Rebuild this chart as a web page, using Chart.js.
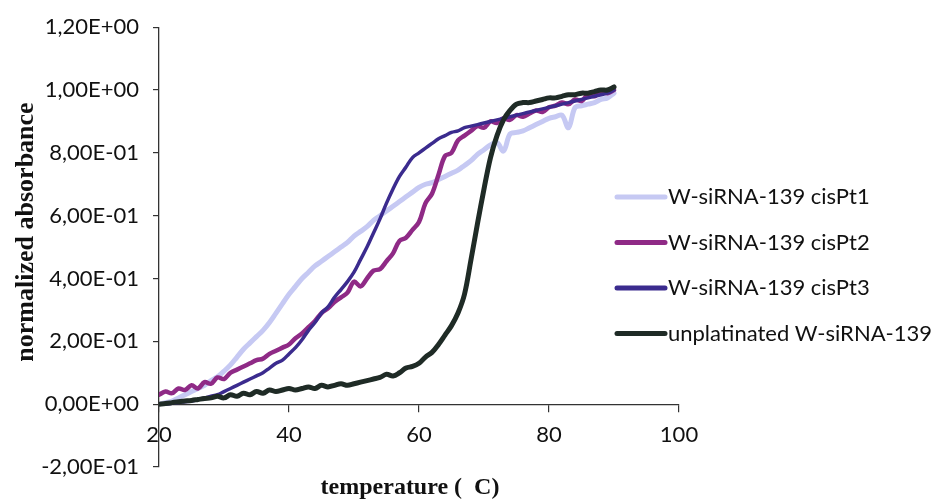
<!DOCTYPE html>
<html>
<head>
<meta charset="utf-8">
<script src="https://cdn.jsdelivr.net/npm/chart.js@4"></script>
<style>
  html, body { margin: 0; padding: 0; background: #fff; }
  #wrap { position: relative; width: 942px; height: 502px; }
</style>
</head>
<body>
<div id="wrap"><canvas id="chart" width="942" height="502"></canvas></div>
<script>
// temperature (C), one reading per degree
const temps = [20,21,22,23,24,25,26,27,28,29,30,31,32,33,34,35,36,37,38,39,
  40,41,42,43,44,45,46,47,48,49,50,51,52,53,54,55,56,57,58,59,
  60,61,62,63,64,65,66,67,68,69,70,71,72,73,74,75,76,77,78,79,
  80,81,82,83,84,85,86,87,88,89,90];

const cisPt1 = [0.00,0.005,0.01,0.02,0.03,0.04,0.05,0.06,0.075,0.087,0.105,0.125,0.15,0.175,0.195,0.215,0.235,0.26,0.29,0.32,
  0.35,0.375,0.40,0.42,0.44,0.455,0.47,0.485,0.50,0.515,0.535,0.55,0.565,0.585,0.60,0.615,0.63,0.645,0.66,0.675,
  0.69,0.70,0.705,0.715,0.725,0.735,0.745,0.76,0.775,0.795,0.81,0.825,0.833,0.806,0.86,0.865,0.87,0.88,0.89,0.90,
  0.91,0.915,0.92,0.88,0.944,0.95,0.955,0.96,0.97,0.975,0.99];

const cisPt2 = [0.03,0.04,0.035,0.05,0.045,0.06,0.05,0.07,0.065,0.085,0.08,0.10,0.11,0.12,0.13,0.14,0.145,0.16,0.17,0.18,
  0.19,0.21,0.225,0.245,0.265,0.29,0.305,0.325,0.34,0.355,0.39,0.375,0.40,0.425,0.43,0.455,0.48,0.52,0.53,0.555,
  0.58,0.64,0.67,0.73,0.79,0.80,0.84,0.855,0.87,0.885,0.88,0.90,0.895,0.91,0.905,0.92,0.915,0.925,0.935,0.93,
  0.945,0.95,0.96,0.955,0.97,0.965,0.985,0.98,0.995,0.99,1.0];

const cisPt3 = [0.0,0.0,0.003,0.005,0.008,0.01,0.015,0.02,0.025,0.03,0.04,0.05,0.06,0.07,0.08,0.09,0.10,0.115,0.13,0.14,
  0.16,0.18,0.205,0.235,0.26,0.29,0.31,0.34,0.365,0.39,0.42,0.46,0.50,0.545,0.59,0.64,0.685,0.725,0.755,0.785,
  0.80,0.815,0.83,0.845,0.855,0.865,0.87,0.88,0.885,0.89,0.895,0.90,0.905,0.91,0.915,0.92,0.925,0.93,0.935,0.94,
  0.945,0.95,0.955,0.96,0.965,0.97,0.975,0.98,0.985,0.99,1.0];

const unplatinated = [0.0,0.002,0.005,0.008,0.01,0.012,0.015,0.018,0.02,0.025,0.02,0.03,0.025,0.035,0.03,0.04,0.035,0.045,0.04,0.045,
  0.05,0.045,0.05,0.055,0.05,0.06,0.055,0.06,0.065,0.06,0.065,0.07,0.075,0.08,0.085,0.095,0.09,0.10,0.115,0.12,
  0.13,0.15,0.165,0.19,0.22,0.25,0.29,0.35,0.46,0.575,0.685,0.785,0.855,0.905,0.935,0.955,0.96,0.96,0.965,0.97,
  0.975,0.975,0.98,0.985,0.985,0.99,0.99,0.995,1.0,1.0,1.01];

const seriesNames = ['W-siRNA-139 cisPt1', 'W-siRNA-139 cisPt2', 'W-siRNA-139 cisPt3', 'unplatinated W-siRNA-139'];
const seriesColors = ['#c6c9f3', '#8f2a86', '#3b2b8e', '#1f2b26'];
const seriesWidths = [5, 4.5, 3.5, 5];

const xTicks = [20, 40, 60, 80, 100];
const yTicks = [-0.2, 0, 0.2, 0.4, 0.6, 0.8, 1.0, 1.2];
const yTickLabels = ['-2,00E-01', '0,00E+00', '2,00E-01', '4,00E-01', '6,00E-01', '8,00E-01', '1,00E+00', '1,20E+00'];

const allSeries = [cisPt1, cisPt2, cisPt3, unplatinated];
const drawOrder = [3, 2, 1, 0];

const datasets = allSeries.map((vals, i) => ({
  label: seriesNames[i],
  data: temps.map((t, k) => ({ x: t, y: vals[k] })),
  borderColor: seriesColors[i],
  borderWidth: seriesWidths[i],
  borderCapStyle: 'round',
  borderJoinStyle: 'round',
  pointRadius: 0,
  tension: 0.35,
  showLine: true,
  fill: false,
  order: drawOrder[i],
}));

// axis titles + legend drawn by hand (legend sits over the plot area)
const extras = {
  id: 'extras',
  afterDraw(chart) {
    const ctx = chart.ctx;
    ctx.save();
    ctx.fillStyle = '#111';
    ctx.font = 'bold 24px "Liberation Serif", "Times New Roman", serif';
    ctx.textAlign = 'center';
    ctx.textBaseline = 'middle';
    ctx.fillText('temperature (  C)', 410, 488);
    ctx.font = 'bold 26px "Liberation Serif", "Times New Roman", serif';
    ctx.save();
    ctx.translate(26, 232);
    ctx.rotate(-Math.PI / 2);
    ctx.fillText('normalized absorbance', 0, 0);
    ctx.restore();

    ctx.font = '22px Lato, "Open Sans", sans-serif';
    ctx.textAlign = 'left';
    seriesNames.forEach((name, i) => {
      const y = 197 + i * 45.5;
      ctx.strokeStyle = seriesColors[i];
      ctx.lineWidth = 5;
      ctx.lineCap = 'round';
      ctx.beginPath();
      ctx.moveTo(617, y);
      ctx.lineTo(665, y);
      ctx.stroke();
      ctx.fillStyle = '#111';
      ctx.fillText(name, 668, y);
    });
    ctx.restore();
  }
};

new Chart(document.getElementById('chart'), {
  type: 'scatter',
  data: { datasets },
  options: {
    responsive: false,
    animation: false,
    layout: { padding: { left: 0, top: 25, right: 263, bottom: 35 } },
    plugins: { legend: { display: false }, tooltip: { enabled: false } },
    scales: {
      x: {
        type: 'linear',
        min: 20,
        max: 100,
        position: { y: 0 },
        afterBuildTicks: (s) => { s.ticks = xTicks.map(v => ({ value: v })); },
        ticks: {
          color: '#111',
          font: { family: 'Lato', size: 22 },
          padding: 11,
          maxRotation: 0,
        },
        grid: { display: true, drawOnChartArea: false, drawTicks: true, tickLength: 7, color: '#333', lineWidth: 1.2 },
        border: { display: true, color: '#333', width: 1.3 },
      },
      y: {
        type: 'linear',
        min: -0.2,
        max: 1.2,
        afterBuildTicks: (s) => { s.ticks = yTicks.map(v => ({ value: v })); },
        afterFit: (s) => { s.width = 159; },
        ticks: {
          color: '#111',
          font: { family: 'Lato', size: 22 },
          padding: 14,
          callback: (v, i) => yTickLabels[i],
        },
        grid: { display: true, drawOnChartArea: false, drawTicks: true, tickLength: 6, color: '#333', lineWidth: 1.2 },
        border: { display: true, color: '#333', width: 1.3 },
      },
    },
  },
  plugins: [extras],
});
</script>
</body>
</html>
